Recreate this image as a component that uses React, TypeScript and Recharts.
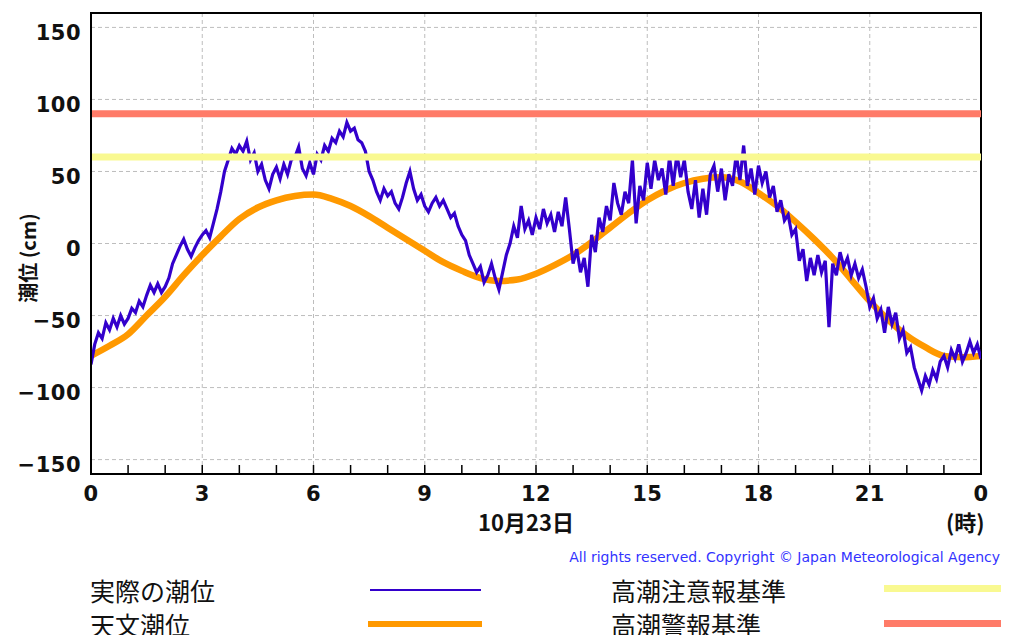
import React from 'react';
import { LineChart, Line, XAxis, YAxis, CartesianGrid, ReferenceLine, ReferenceArea } from 'recharts';

const hourTicks = [0,1,2,3,4,5,6,7,8,9,10,11,12,13,14,15,16,17,18,19,20,21,22,23,24];
const gridHours = [3,6,9,12,15,18,21];
const levelTicks = [-150,-100,-50,0,50,100,150];

const astroHours = [0,0.5,1,1.5,2,2.5,3,3.5,4,4.5,5,5.5,6,6.5,7,7.5,8,8.5,9,9.5,10,10.5,11,11.5,12,12.5,13,13.5,14,14.5,15,15.5,16,16.5,17,17.5,18,18.5,19,19.5,20,20.5,21,21.5,22,22.5,23,23.5,24];
const astroLevels = [-78,-71,-63,-50,-37,-22,-8,5,17,25,30,33,34,31,26,19,11,3,-5,-13,-19,-24,-26,-25,-21,-15,-8,1,11,21,30,37,42,45,46,43,35,26,15,3,-10,-25,-40,-53,-64,-72,-78,-79,-78];

const obsLevels = [
  -84,-70,-62,-66,-55,-60,-52,-58,-50,-56,
  -52,-45,-48,-40,-44,-36,-29,-34,-28,-34,
  -30,-24,-14,-8,-2,3,-4,-9,-3,2,
  6,9,4,14,24,36,50,58,66,62,
  68,64,71,58,63,50,55,44,38,48,
  53,45,55,48,58,60,67,52,47,56,
  48,62,58,68,64,73,70,78,74,84,
  78,80,72,70,64,50,44,36,30,38,
  33,36,28,24,32,42,50,38,30,34,
  26,22,28,32,26,30,24,18,21,12,
  6,2,-8,-14,-20,-16,-27,-22,-14,-24,
  -32,-20,-8,0,12,4,26,10,16,6,
  18,10,24,14,20,8,22,12,32,10,
  -14,-4,-20,-10,-30,6,-6,18,8,26,
  16,42,28,20,36,28,58,14,40,30,
  56,38,58,44,52,34,60,40,62,46,
  58,36,24,44,18,38,20,48,54,36,
  52,30,48,40,62,44,68,40,52,34,
  54,42,50,32,40,22,30,16,20,6,
  10,-12,-4,-26,-10,-22,-8,-20,-12,-58,
  -14,-22,-6,-16,-10,-22,-14,-24,-18,-30,
  -44,-38,-52,-46,-62,-44,-56,-48,-66,-60,
  -76,-72,-86,-94,-102,-92,-98,-88,-94,-82,
  -78,-86,-74,-80,-70,-82,-76,-68,-76,-70,
  -80
];

const cautionLevel = 60;
const warningLevel = 90;

const legendLabels = ['実際の潮位', '天文潮位', '高潮注意報基準', '高潮警報基準'];
const colors = { obs: '#3300cc', astro: '#ff9900', caution: '#f9f991', warning: '#ff7b68' };

const astroData = astroHours.map((h, i) => ({ h, v: astroLevels[i] }));
const obsData = obsLevels.map((v, i) => ({ h: i / 10, v }));

const tickFont = { fontFamily: 'DejaVu Sans', fontWeight: 'bold', fontSize: 21, fill: '#111', letterSpacing: 0.5 } as const;

export default function App() {
  return (
    <div style={{ position: 'absolute', left: 0, top: 0, width: 1011, height: 635, background: '#fff', overflow: 'hidden' }}>
      <LineChart width={1011} height={635} margin={{ top: 13, right: 30, bottom: 160, left: 90 }}>
        <CartesianGrid horizontal={true} vertical={true} verticalValues={gridHours} horizontalValues={levelTicks} stroke="#bdbdbd" strokeDasharray="4 3" />
        <XAxis type="number" dataKey="h" domain={[0, 24]} ticks={hourTicks} interval={0} height={1}
          tickFormatter={(v: number) => (v % 3 === 0 ? String(v % 24) : '')}
          tickSize={-9} tickMargin={21} axisLine={{ stroke: '#000', strokeWidth: 2 }} tickLine={{ stroke: '#000', strokeWidth: 1.5 }}
          tick={tickFont} allowDataOverflow />
        <YAxis type="number" domain={[-160, 160]} ticks={levelTicks} width={1} tickSize={0} tickMargin={10}
          tickFormatter={(v: number) => (v < 0 ? '−' + String(-v) : String(v))}
          axisLine={{ stroke: '#000', strokeWidth: 2 }} tickLine={false} tick={{ ...tickFont, dy: 5 }} allowDataOverflow />
        <Line data={astroData} dataKey="v" type="monotone" stroke={colors.astro} strokeWidth={6.5} dot={false} isAnimationActive={false} />
        <Line data={obsData} dataKey="v" type="linear" stroke={colors.obs} strokeWidth={3.2} dot={false} isAnimationActive={false} />
        <ReferenceLine y={cautionLevel} stroke={colors.caution} strokeWidth={7} />
        <ReferenceLine y={warningLevel} stroke={colors.warning} strokeWidth={7} />
        <ReferenceArea x1={0} x2={24} y1={-160} y2={160} fill="none" stroke="#000" strokeWidth={2} ifOverflow="visible" />
      </LineChart>
      <div style={{ position: 'absolute', left: 7, top: 238, width: 40, height: 40, transform: 'rotate(-90deg)', transformOrigin: 'center', display: 'flex', alignItems: 'center', justifyContent: 'center', whiteSpace: 'nowrap', fontFamily: '"Noto Sans CJK JP", "DejaVu Sans"', fontWeight: 'bold', fontSize: 20, color: '#111' }}>潮位 (cm)</div>
      <div style={{ position: 'absolute', left: 478, top: 506, fontFamily: '"Noto Sans CJK JP"', fontWeight: 'bold', fontSize: 22, color: '#111', lineHeight: '30px' }}>10月23日</div>
      <div style={{ position: 'absolute', left: 946, top: 506, fontFamily: '"Noto Sans CJK JP"', fontWeight: 'bold', fontSize: 22, color: '#111', lineHeight: '30px' }}>(時)</div>
      <div style={{ position: 'absolute', right: 11, top: 547, fontFamily: 'DejaVu Sans', fontSize: 14, color: '#3333ff', lineHeight: '20px', whiteSpace: 'nowrap' }}>All rights reserved. Copyright © Japan Meteorological Agency</div>
      <div style={{ position: 'absolute', left: 90, top: 573, fontFamily: '"Noto Sans CJK JP"', fontSize: 25, color: '#111', lineHeight: '34px' }}>{legendLabels[0]}</div>
      <div style={{ position: 'absolute', left: 90, top: 607, fontFamily: '"Noto Sans CJK JP"', fontSize: 25, color: '#111', lineHeight: '34px' }}>{legendLabels[1]}</div>
      <div style={{ position: 'absolute', left: 611, top: 573, fontFamily: '"Noto Sans CJK JP"', fontSize: 25, color: '#111', lineHeight: '34px' }}>{legendLabels[2]}</div>
      <div style={{ position: 'absolute', left: 611, top: 607, fontFamily: '"Noto Sans CJK JP"', fontSize: 25, color: '#111', lineHeight: '34px' }}>{legendLabels[3]}</div>
      <div style={{ position: 'absolute', left: 370, top: 589, width: 111, height: 2, background: colors.obs }} />
      <div style={{ position: 'absolute', left: 368, top: 621, width: 114, height: 6, background: colors.astro }} />
      <div style={{ position: 'absolute', left: 884, top: 585, width: 117, height: 7, background: colors.caution }} />
      <div style={{ position: 'absolute', left: 884, top: 620, width: 117, height: 7, background: colors.warning }} />
    </div>
  );
}
